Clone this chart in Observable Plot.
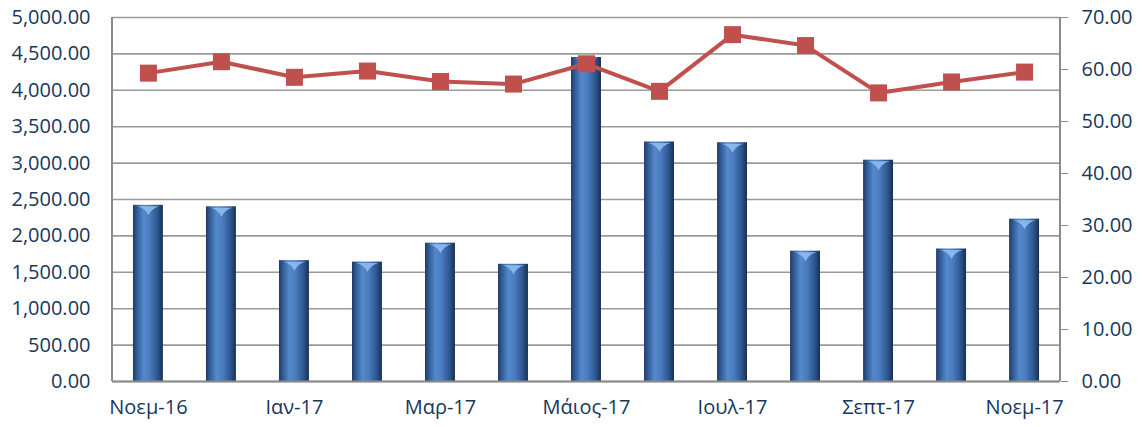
<!DOCTYPE html>
<html>
<head>
<meta charset="utf-8">
<script src="https://cdn.jsdelivr.net/npm/d3@7"></script>
<script src="https://cdn.jsdelivr.net/npm/@observablehq/plot@0.6"></script>
<style>
  html, body { margin: 0; padding: 0; background: #fff; }
  #chart svg { display: block; }
</style>
</head>
<body>
<div id="chart"></div>
<script>
const months = ["Νοεμ-16","Δεκ-16","Ιαν-17","Φεβ-17","Μαρ-17","Απρ-17","Μάιος-17","Ιουν-17","Ιουλ-17","Αυγ-17","Σεπτ-17","Οκτ-17","Νοεμ-17"];
const barValues = [2420, 2400, 1660, 1640, 1900, 1610, 4450, 3290, 3280, 1790, 3040, 1820, 2230];
const lineValues = [59.3, 61.5, 58.5, 59.7, 57.7, 57.2, 61.1, 55.8, 66.7, 64.6, 55.5, 57.6, 59.5];
const xTickLabels = ["Νοεμ-16","Ιαν-17","Μαρ-17","Μάιος-17","Ιουλ-17","Σεπτ-17","Νοεμ-17"];
const leftTicks = [0, 500, 1000, 1500, 2000, 2500, 3000, 3500, 4000, 4500, 5000];
const rightTicks = [0, 10, 20, 30, 40, 50, 60, 70];
const leftMax = 5000, rightMax = 70;
const k = leftMax / rightMax;

const bars = months.map((m, i) => ({month: m, value: barValues[i]}));
const line = months.map((m, i) => ({month: m, value: lineValues[i], y: lineValues[i] * k}));

const textColor = "#17375e";
const fontFamily = "'Open Sans', sans-serif";

// lens-shaped highlight on top of each cylinder bar
const capSymbol = {
  draw(context, size) {
    const w = 11, h = 9;
    context.moveTo(-w, 0);
    context.quadraticCurveTo(-w * 0.3, h * 0.2, 0, h);
    context.quadraticCurveTo(w * 0.3, h * 0.2, w, 0);
    context.closePath();
  }
};

const chart = Plot.plot({
  width: 1142,
  height: 427,
  marginLeft: 112,
  marginRight: 82,
  marginTop: 17,
  marginBottom: 46,
  style: {fontFamily, fontSize: "20px", color: textColor, background: "#fff"},
  x: {type: "band", domain: months, paddingInner: 0.59, paddingOuter: 0.287, round: false, label: null},
  y: {domain: [0, leftMax], label: null},
  marks: [
    Plot.gridY(leftTicks, {stroke: "#9a9a9a", strokeOpacity: 1, strokeWidth: 1.6}),
    Plot.barY(bars, {x: "month", y: "value", fill: "url(#barGrad)"}),
    Plot.dot(bars, {x: "month", y: "value", symbol: capSymbol, r: 5, fill: "#8fbcf0", fillOpacity: 0.9, dy: 1}),
    Plot.ruleY([0], {stroke: "#8a8a8a", strokeWidth: 2}),
    Plot.axisY(leftTicks, {anchor: "left", tickSize: 0, tickPadding: 22, tickFormat: d3.format(",.2f"), fill: textColor, label: null}),
    Plot.axisY(rightTicks.map(t => t * k), {anchor: "right", tickSize: 7, tickPadding: 14, stroke: "#8a8a8a", tickFormat: d => d3.format(".2f")(d / k), fill: textColor, label: null, textAnchor: "start"}),
    Plot.axisX(xTickLabels, {anchor: "bottom", tickSize: 0, tickPadding: 18, fill: textColor, label: null}),
    Plot.line(line, {x: "month", y: "y", stroke: "#c0504d", strokeWidth: 4}),
    Plot.dot(line, {x: "month", y: "y", symbol: "square", r: 9.6, fill: "#c0504d", stroke: "none"})
  ]
});

const svg = d3.select(chart);
const defs = svg.insert("defs", ":first-child");
const g = defs.append("linearGradient").attr("id", "barGrad").attr("x1", "0").attr("x2", "1").attr("y1", "0").attr("y2", "0");
[[0, "#1d3a63"], [0.12, "#2f5a93"], [0.35, "#5489cc"], [0.55, "#4a7dbf"], [0.82, "#2d5690"], [1, "#17304f"]]
  .forEach(([o, c]) => g.append("stop").attr("offset", o).attr("stop-color", c));

// plot-area frame: left and right axis lines
svg.append("line").attr("x1", 112).attr("x2", 112).attr("y1", 17).attr("y2", 381).attr("stroke", "#8a8a8a").attr("stroke-width", 2);
svg.append("line").attr("x1", 1060).attr("x2", 1060).attr("y1", 17).attr("y2", 381).attr("stroke", "#8a8a8a").attr("stroke-width", 2);

document.getElementById("chart").appendChild(chart);
</script>
</body>
</html>
